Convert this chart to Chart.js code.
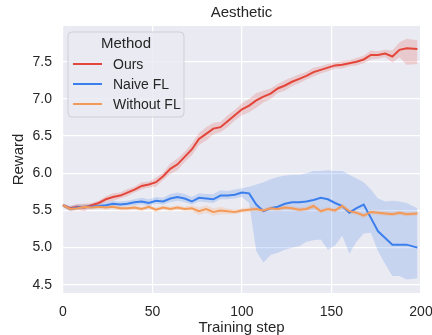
<!DOCTYPE html>
<html>
<head>
<meta charset="utf-8">
<script src="https://cdn.jsdelivr.net/npm/chart.js@4.4.1/dist/chart.umd.min.js"></script>
<style>
    html, body { margin: 0; padding: 0; background: #ffffff; }
    canvas { display: block; }
</style>
</head>
<body>
<canvas id="aestheticChart" width="432" height="335"></canvas>
<script>
// Pasos de entrenamiento muestreados
const steps = [0, 4, 8, 12, 16, 20, 24, 28, 32, 36, 40, 44, 48, 52, 56, 60, 64, 68, 72, 76,
    80, 84, 88, 92, 96, 100, 104, 108, 112, 116, 120, 124, 128, 132, 136, 140, 144, 148, 152, 156,
    160, 164, 168, 172, 176, 180, 184, 188, 192, 198];

// Ours
const oursMean = [5.57, 5.53, 5.55, 5.54, 5.57, 5.60, 5.65, 5.68, 5.70, 5.74, 5.78, 5.83, 5.85, 5.88, 5.96,
    6.06, 6.12, 6.22, 6.32, 6.46, 6.53, 6.60, 6.62, 6.70, 6.78, 6.86, 6.91, 6.98, 7.03, 7.07,
    7.14, 7.18, 7.23, 7.27, 7.31, 7.36, 7.39, 7.42, 7.45, 7.46, 7.48, 7.50, 7.53, 7.59, 7.59,
    7.61, 7.57, 7.66, 7.68, 7.67];
const oursLow = [5.55, 5.50, 5.51, 5.49, 5.54, 5.57, 5.61, 5.63, 5.66, 5.69, 5.74, 5.78, 5.81, 5.82, 5.91,
    5.99, 6.04, 6.15, 6.24, 6.38, 6.44, 6.52, 6.55, 6.62, 6.71, 6.78, 6.82, 6.88, 6.95, 7.00,
    7.08, 7.11, 7.17, 7.21, 7.26, 7.30, 7.34, 7.37, 7.41, 7.41, 7.44, 7.45, 7.48, 7.53, 7.54,
    7.56, 7.49, 7.56, 7.46, 7.47];
const oursHigh = [5.59, 5.56, 5.59, 5.59, 5.60, 5.63, 5.69, 5.73, 5.74, 5.79, 5.82, 5.88, 5.89, 5.94, 6.01,
    6.13, 6.20, 6.29, 6.40, 6.54, 6.62, 6.68, 6.69, 6.78, 6.85, 6.94, 7.00, 7.08, 7.11, 7.14,
    7.20, 7.25, 7.29, 7.33, 7.36, 7.42, 7.44, 7.47, 7.49, 7.51, 7.52, 7.55, 7.58, 7.65, 7.64,
    7.66, 7.65, 7.76, 7.81, 7.79];

// Naive FL
const naiveMean = [5.57, 5.52, 5.54, 5.55, 5.55, 5.56, 5.57, 5.59, 5.58, 5.59, 5.61, 5.62, 5.60, 5.63, 5.62,
    5.66, 5.68, 5.66, 5.62, 5.67, 5.66, 5.65, 5.70, 5.70, 5.71, 5.74, 5.73, 5.58, 5.49, 5.53,
    5.55, 5.59, 5.61, 5.61, 5.62, 5.64, 5.67, 5.65, 5.60, 5.56, 5.47, 5.53, 5.58, 5.40, 5.22,
    5.13, 5.04, 5.04, 5.04, 5.00];
const naiveLow = [5.55, 5.49, 5.51, 5.52, 5.52, 5.53, 5.54, 5.56, 5.55, 5.56, 5.57, 5.58, 5.56, 5.59, 5.58,
    5.61, 5.63, 5.61, 5.58, 5.62, 5.61, 5.60, 5.65, 5.65, 5.66, 5.68, 5.60, 4.95, 4.80, 4.90,
    4.93, 4.97, 5.00, 5.02, 5.08, 5.10, 5.11, 4.97, 5.03, 5.16, 4.92, 5.08, 5.19, 5.20, 4.95,
    4.78, 4.62, 4.62, 4.57, 4.59];
const naiveHigh = [5.59, 5.56, 5.58, 5.58, 5.58, 5.60, 5.61, 5.63, 5.62, 5.63, 5.65, 5.67, 5.65, 5.68, 5.67,
    5.72, 5.74, 5.72, 5.68, 5.73, 5.72, 5.72, 5.77, 5.76, 5.78, 5.80, 5.82, 5.85, 5.88, 5.92,
    5.95, 5.97, 5.98, 5.98, 6.00, 6.03, 6.03, 6.04, 6.03, 6.03, 5.98, 5.93, 5.88, 5.78, 5.66,
    5.62, 5.63, 5.62, 5.60, 5.53];

// Without FL
const withoutMean = [5.57, 5.52, 5.53, 5.55, 5.54, 5.55, 5.54, 5.55, 5.53, 5.53, 5.54, 5.52, 5.55, 5.51, 5.54,
    5.52, 5.54, 5.52, 5.53, 5.49, 5.52, 5.48, 5.50, 5.49, 5.48, 5.50, 5.51, 5.52, 5.50, 5.53,
    5.52, 5.54, 5.53, 5.51, 5.52, 5.56, 5.49, 5.52, 5.50, 5.56, 5.49, 5.47, 5.43, 5.48, 5.47,
    5.46, 5.45, 5.47, 5.45, 5.46];
const withoutLow = [5.55, 5.49, 5.50, 5.52, 5.51, 5.52, 5.51, 5.52, 5.50, 5.50, 5.51, 5.49, 5.52, 5.48, 5.51,
    5.49, 5.51, 5.49, 5.49, 5.44, 5.47, 5.43, 5.45, 5.45, 5.45, 5.47, 5.48, 5.49, 5.47, 5.50,
    5.49, 5.51, 5.50, 5.48, 5.49, 5.52, 5.46, 5.49, 5.47, 5.52, 5.46, 5.44, 5.40, 5.45, 5.44,
    5.43, 5.42, 5.44, 5.42, 5.43];
const withoutHigh = [5.59, 5.55, 5.56, 5.58, 5.57, 5.58, 5.57, 5.58, 5.56, 5.56, 5.57, 5.55, 5.58, 5.54, 5.57,
    5.55, 5.57, 5.55, 5.57, 5.54, 5.57, 5.53, 5.55, 5.53, 5.51, 5.53, 5.54, 5.55, 5.53, 5.56,
    5.55, 5.57, 5.56, 5.54, 5.55, 5.60, 5.52, 5.55, 5.53, 5.60, 5.52, 5.50, 5.46, 5.51, 5.50,
    5.49, 5.48, 5.50, 5.48, 5.49];

const xTicks = [0, 50, 100, 150, 200];
const yTicks = [4.5, 5.0, 5.5, 6.0, 6.5, 7.0, 7.5];

const RED = '#e3463a';
const BLUE = '#3b7fec';
const ORANGE = '#f49a58';
const TEXT = '#262626';
const FONT = '"Liberation Sans", Arial, sans-serif';

function toPoints(ys) {
    return steps.map((s, i) => ({ x: s, y: ys[i] }));
}

function lineSet(label, ys, color, order) {
    return {
        label: label,
        data: toPoints(ys),
        borderColor: color,
        backgroundColor: color,
        borderWidth: 2,
        pointRadius: 0,
        tension: 0,
        fill: false,
        order: order
    };
}

function bandSet(ys, color, fillTarget, order) {
    return {
        label: '_band',
        data: toPoints(ys),
        borderWidth: 0,
        borderColor: 'rgba(0,0,0,0)',
        backgroundColor: color,
        pointRadius: 0,
        tension: 0,
        fill: fillTarget,
        order: order
    };
}

// Fondo gris del área del gráfico (estilo darkgrid)
const plotBackground = {
    id: 'plotBackground',
    beforeDraw(chart) {
        const { ctx, chartArea: a } = chart;
        ctx.save();
        ctx.fillStyle = '#eaeaf2';
        ctx.fillRect(a.left, a.top, a.right - a.left, a.bottom - a.top);
        ctx.restore();
    }
};

// Leyenda dentro del área, con título "Method"
const insideLegend = {
    id: 'insideLegend',
    afterDraw(chart) {
        const { ctx, chartArea: a } = chart;
        const items = chart.data.datasets.filter(d => d.label !== '_band');
        const x0 = a.left + 6, y0 = a.top + 6, w = 116, h = 85;
        ctx.save();
        ctx.beginPath();
        ctx.roundRect(x0, y0, w, h, 4);
        ctx.fillStyle = 'rgba(234,234,242,0.85)';
        ctx.fill();
        ctx.strokeStyle = '#cfcfd6';
        ctx.lineWidth = 1;
        ctx.stroke();
        ctx.fillStyle = TEXT;
        ctx.textBaseline = 'middle';
        ctx.textAlign = 'center';
        ctx.font = '15px ' + FONT;
        ctx.fillText('Method', x0 + w / 2, y0 + 12);
        ctx.textAlign = 'left';
        ctx.font = '14px ' + FONT;
        items.forEach((d, i) => {
            const yy = y0 + 32 + i * 20;
            ctx.strokeStyle = d.borderColor;
            ctx.lineWidth = 2;
            ctx.beginPath();
            ctx.moveTo(x0 + 5, yy);
            ctx.lineTo(x0 + 34, yy);
            ctx.stroke();
            ctx.fillStyle = TEXT;
            ctx.fillText(d.label, x0 + 45, yy + 1);
        });
        ctx.restore();
    }
};

new Chart(document.getElementById('aestheticChart').getContext('2d'), {
    type: 'line',
    data: {
        datasets: [
            lineSet('Ours', oursMean, RED, 3),
            lineSet('Naive FL', naiveMean, BLUE, 2),
            lineSet('Without FL', withoutMean, ORANGE, 1),
            bandSet(oursLow, 'rgba(227,70,58,0.2)', false, 6),
            bandSet(oursHigh, 'rgba(227,70,58,0.2)', 3, 6),
            bandSet(naiveLow, 'rgba(59,127,236,0.2)', false, 5),
            bandSet(naiveHigh, 'rgba(59,127,236,0.2)', 5, 5),
            bandSet(withoutLow, 'rgba(244,154,88,0.2)', false, 4),
            bandSet(withoutHigh, 'rgba(244,154,88,0.2)', 7, 4)
        ]
    },
    options: {
        responsive: false,
        animation: false,
        layout: { padding: { left: 0, right: 11, top: 0, bottom: 0 } },
        scales: {
            x: {
                type: 'linear',
                min: -0.5,
                max: 200,
                afterBuildTicks: (scale) => { scale.ticks = xTicks.map(v => ({ value: v })); },
                afterFit: (scale) => {
                    scale.height = 42;
                    scale.paddingLeft = 0;
                    scale.paddingRight = 0;
                },
                ticks: { color: TEXT, font: { family: FONT, size: 14 }, padding: 11, maxRotation: 0 },
                grid: { color: '#ffffff', lineWidth: 1.2, drawTicks: false },
                border: { display: false },
                title: {
                    display: true, text: 'Training step', color: TEXT,
                    font: { family: FONT, size: 15, lineHeight: 1 }, padding: { top: 0, bottom: 0 }
                }
            },
            y: {
                type: 'linear',
                min: 4.39,
                max: 7.98,
                afterBuildTicks: (scale) => { scale.ticks = yTicks.map(v => ({ value: v })); },
                afterFit: (scale) => { scale.width = 62; },
                ticks: {
                    color: TEXT, font: { family: FONT, size: 14 }, padding: 10,
                    callback: (v) => Number(v).toFixed(1)
                },
                grid: { color: '#ffffff', lineWidth: 1.2, drawTicks: false },
                border: { display: false },
                title: {
                    display: true, text: 'Reward', color: TEXT,
                    font: { family: FONT, size: 15 }, padding: { top: 10, bottom: 0 }
                }
            }
        },
        plugins: {
            legend: { display: false },
            tooltip: { enabled: false },
            title: {
                display: true,
                text: 'Aesthetic',
                color: TEXT,
                fullSize: false,
                font: { family: FONT, size: 15, weight: 'normal' },
                padding: { top: 4, bottom: 4 }
            }
        }
    },
    plugins: [plotBackground, insideLegend]
});
</script>
</body>
</html>
